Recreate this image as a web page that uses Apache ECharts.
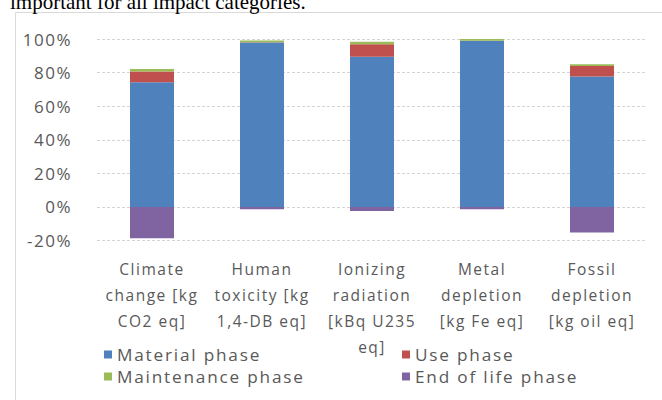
<!DOCTYPE html>
<html>
<head>
<meta charset="utf-8">
<script src="https://cdn.jsdelivr.net/npm/echarts@6/dist/echarts.min.js"></script>
<style>
  html, body { margin: 0; padding: 0; background: #fff; }
  #chart { width: 662px; height: 400px; }
  /* Wide-tracked sans labels; the serif caption keeps normal spacing */
  #chart text { letter-spacing: 1.5px; }
  #chart text[style*="17.2px"] { letter-spacing: 1.8px; }
  #chart text[style*="Serif"] { letter-spacing: 0; }
</style>
</head>
<body>
<div id="chart"></div>
<script>
// Impact categories (x axis)
const categories = [
  'Climate\nchange [kg\nCO2 eq]',
  'Human\ntoxicity [kg\n1,4-DB eq]',
  'Ionizing\nradiation\n[kBq U235\neq]',
  'Metal\ndepletion\n[kg Fe eq]',
  'Fossil\ndepletion\n[kg oil eq]'
];

// Share of each life-cycle phase per category, in percent
const materialPhase    = [74.2, 97.9, 89.4, 98.9, 77.6];
const usePhase         = [6.5, 0.2, 7.5, 0.1, 6.3];
const maintenancePhase = [1.4, 1.0, 1.4, 1.0, 1.0];
const endOfLifePhase   = [-18.6, -1.4, -2.5, -1.4, -15.2];

// Value axis ticks
const yTicks = [-20, 0, 20, 40, 60, 80, 100];

const seriesNames = ['Material phase', 'Use phase', 'Maintenance phase', 'End of life phase'];
const seriesData = [materialPhase, usePhase, maintenancePhase, endOfLifePhase];
const seriesColors = ['#4f81bd', '#c0504d', '#9bbb59', '#8064a2'];

const labelColor = '#595959';
const fontFamily = '"Open Sans", sans-serif';

const chart = echarts.init(document.getElementById('chart'), null, { renderer: 'svg' });

function legendBlock(names, left) {
  return {
    data: names,
    orient: 'vertical',
    left: left,
    top: 341,
    itemWidth: 8,
    itemHeight: 8,
    itemGap: 5,
    icon: 'rect',
    textStyle: { color: labelColor, fontSize: 17.2, fontFamily: fontFamily, padding: [0, 0, 0, 0] }
  };
}

chart.setOption({
  animation: false,
  textStyle: { fontFamily: fontFamily },
  graphic: [
    {
      type: 'text',
      left: 10,
      top: -9,
      style: {
        text: 'important for all impact categories.',
        font: '21px "Liberation Serif", serif',
        fill: '#000'
      }
    },
    {
      type: 'rect',
      shape: { x: 15.5, y: 12.5, width: 700, height: 420 },
      style: { fill: 'none', stroke: '#d9d9d9', lineWidth: 1 },
      z: -1
    }
  ],
  legend: [
    legendBlock([seriesNames[0], seriesNames[2]], 99),
    legendBlock([seriesNames[1], seriesNames[3]], 397)
  ],
  grid: { left: 97, right: 15, top: 39, bottom: 159.5, containLabel: false },
  xAxis: {
    type: 'category',
    data: categories,
    axisLine: { show: false },
    axisTick: { show: false },
    axisLabel: {
      interval: 0,
      color: labelColor,
      fontSize: 15.5,
      lineHeight: 26,
      margin: 15,
      verticalAlign: 'top'
    }
  },
  yAxis: {
    type: 'value',
    min: yTicks[0],
    max: yTicks[yTicks.length - 1],
    interval: 20,
    axisLine: { show: false },
    axisTick: { show: false },
    axisLabel: {
      color: labelColor,
      fontSize: 17,
      margin: 25,
      formatter: function (v) { return v + '%'; }
    },
    splitLine: { lineStyle: { color: '#d4d4d4', type: [3, 2], width: 1 } }
  },
  series: seriesNames.map(function (name, i) {
    return {
      name: name,
      type: 'bar',
      stack: 'phases',
      barWidth: '40%',
      data: seriesData[i],
      itemStyle: { color: seriesColors[i] }
    };
  })
});
</script>
</body>
</html>
